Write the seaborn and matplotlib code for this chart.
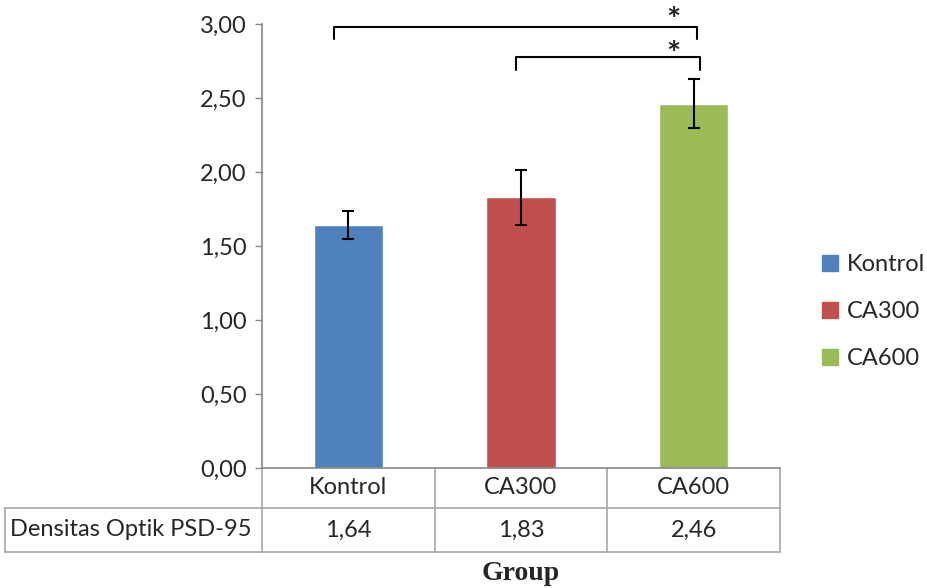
import matplotlib
matplotlib.use('Agg')
import matplotlib.pyplot as plt
import matplotlib.transforms as mtransforms
from matplotlib.patches import Patch
import pandas as pd
import seaborn as sns

# data
groups = ['Kontrol', 'CA300', 'CA600']
densitas = [1.64, 1.83, 2.46]
sd = [0.095, 0.185, 0.165]
colors = ['#4F81BD', '#C0504D', '#9BBB59']
row_label = 'Densitas Optik PSD-95'
yticks = [0, 0.5, 1.0, 1.5, 2.0, 2.5, 3.0]

# significance brackets (from idx, to idx, height, tip drop, star height)
brk_from = [0, 1]
brk_to = [2, 2]
brk_off = [(-0.08, 0.02), (-0.03, 0.035)]
brk_y = [2.98, 2.78]
brk_drop = [0.08, 0.09]
star_y = [3.02, 2.79]

sns.set_style('white')
plt.rcParams['font.family'] = ['Lato', 'DejaVu Sans']
FS = 17

df = pd.DataFrame({'group': groups, 'val': densitas})

fig = plt.figure(figsize=(9.28, 5.88), dpi=100)
ax = fig.add_axes([0.2823, 0.2041, 0.8405 - 0.2823, 0.9592 - 0.2041])

sns.barplot(data=df, x='group', y='val', hue='group', palette=colors,
            width=0.4, dodge=False, legend=False, ax=ax, saturation=1)
ax.errorbar(range(len(groups)), densitas, yerr=sd, fmt='none',
            ecolor='black', elinewidth=1.5, capsize=4.5, capthick=1.5)

ax.set_ylim(0, 3)
ax.set_xlim(-0.5, len(groups) - 0.5)
ax.set_yticks(yticks)
ax.set_yticklabels([f'{v:.2f}'.replace('.', ',') for v in yticks], fontsize=FS)
ax.tick_params(axis='y', length=5, width=1, color='#868686', left=True, pad=6)
ax.set_xticks([])
ax.set_xlabel('')
ax.set_ylabel('')
for s in ['top', 'right']:
    ax.spines[s].set_visible(False)
for s in ['left', 'bottom']:
    ax.spines[s].set_color('#868686')
    ax.spines[s].set_linewidth(1.2)

# brackets + stars
for a, b, (oa, ob), y, d, sy in zip(brk_from, brk_to, brk_off, brk_y, brk_drop, star_y):
    x0, x1 = a + oa, b + ob
    ax.plot([x0, x0, x1, x1], [y - d, y, y, y - d], color='black', lw=1.5,
            clip_on=False, solid_joinstyle='round')
    ax.text(b - 0.12, sy, '*', ha='center', va='center',
            fontsize=24, fontweight='bold', clip_on=False)

# data table under the axis
tr = mtransforms.blended_transform_factory(ax.transData, ax.transAxes)
trf = mtransforms.blended_transform_factory(fig.transFigure, ax.transAxes)
r1 = -40 / 444
r2 = -84 / 444
lc = '#A6A6A6'
n = len(groups)
for i in range(n + 1):
    ax.plot([i - 0.5, i - 0.5], [0, r2], color=lc, lw=1.2, transform=tr, clip_on=False)
ax.plot([-0.5, n - 0.5], [r1, r1], color=lc, lw=1.2, transform=tr, clip_on=False)
ax.plot([-0.5, n - 0.5], [r2, r2], color=lc, lw=1.2, transform=tr, clip_on=False)
left = 5 / 928
ax_left = ax.get_position().x0
ax.plot([left, ax_left], [r1, r1], color=lc, lw=1.2, transform=trf, clip_on=False)
ax.plot([left, ax_left], [r2, r2], color=lc, lw=1.2, transform=trf, clip_on=False)
ax.plot([left, left], [r1, r2], color=lc, lw=1.2, transform=trf, clip_on=False)

for i, (g, v) in enumerate(zip(groups, densitas)):
    ax.text(i, r1 / 2, g, ha='center', va='center', fontsize=FS, transform=tr)
    ax.text(i, (r1 + r2) / 2, f'{v:.2f}'.replace('.', ','), ha='center',
            va='center', fontsize=FS, transform=tr)
ax.text(left + 5 / 928, (r1 + r2) / 2, row_label, ha='left', va='center',
        fontsize=FS, transform=trf)

fig.text((ax_left + 0.8405) / 2, 1 - 573 / 588, 'Group', ha='center', va='center',
         fontsize=20, fontweight='bold', family=['Liberation Serif', 'DejaVu Serif'])

handles = [Patch(color=c, label=g) for g, c in zip(groups, colors)]
fig.legend(handles=handles, loc='center left', bbox_to_anchor=(0.886, 0.47),
           frameon=False, fontsize=FS, labelspacing=1.1, handlelength=0.65,
           handleheight=0.65, handletextpad=0.4, borderaxespad=0, borderpad=0)

fig.savefig('out.png', dpi=100)
